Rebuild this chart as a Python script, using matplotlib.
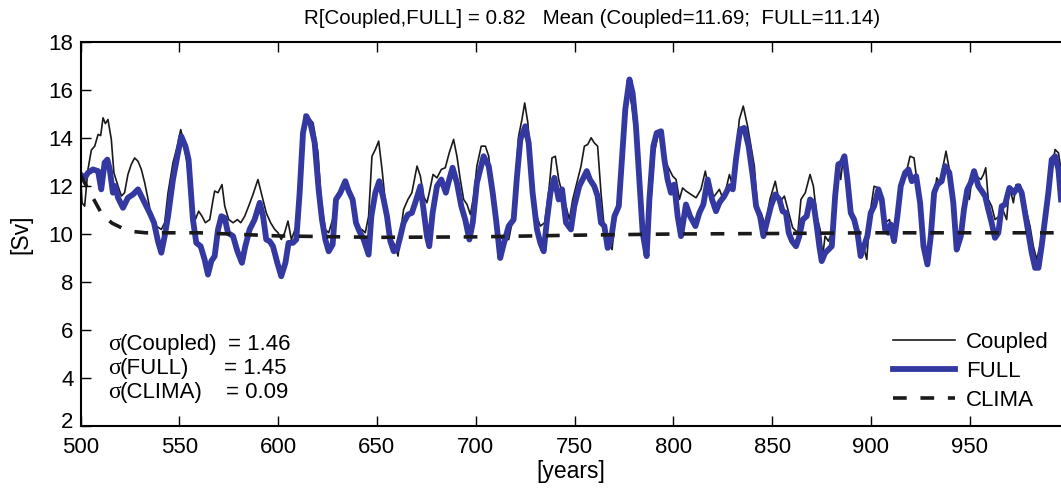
import matplotlib
matplotlib.use("Agg")
import matplotlib.pyplot as plt
import matplotlib.transforms as mtransforms
from matplotlib import font_manager

# values (year, Sv)
coupled_years = [
    500.0, 500.8, 502.1, 503.8, 505.5, 507.2, 508.9, 510.2, 511.4, 512.6, 513.9, 515.6, 516.9, 519.0,
    520.7, 522.3, 524.0, 525.7, 527.4, 529.1, 530.8, 532.5, 534.2, 535.8, 538.4, 540.9, 542.6, 544.3,
    546.8, 549.0, 550.7, 552.4, 554.1, 556.1, 558.1, 559.8, 561.5, 563.2, 565.4, 567.1, 567.9, 569.6,
    571.6, 573.0, 575.0, 577.2, 579.4, 581.1, 583.1, 585.1, 587.3, 589.8, 591.9, 594.0, 596.2, 598.3,
    600.0, 601.6, 603.3, 605.0, 606.7, 609.2, 611.4, 613.4, 615.5, 617.7, 620.2, 621.9,
    622.2, 623.9, 625.6, 628.1, 629.8, 631.5, 634.0, 635.7, 637.4, 639.1, 640.8, 642.4, 644.1, 645.8,
    647.5, 649.2, 650.9, 652.6, 654.3, 655.9, 657.6, 659.3, 660.7, 661.9, 663.5, 665.7, 667.7, 670.3,
    672.0, 673.6, 675.3, 676.5, 678.4, 680.4, 682.6, 684.6, 686.6, 688.8, 690.5, 692.2, 693.9, 695.6,
    697.3, 699.0, 700.6, 702.8, 704.9, 706.6, 708.2, 709.9, 711.6, 714.1, 716.7, 718.4, 720.1, 721.7,
    723.4, 724.8, 726.4, 728.1, 730.2, 732.7, 734.9, 736.9, 738.6, 740.3, 742.0, 743.7,
    745.7, 747.4, 749.1, 751.6, 753.3, 755.0, 756.7, 758.4, 760.0, 761.7, 763.4, 765.1, 766.8, 769.0,
    770.7, 772.7, 774.4, 776.1, 777.4, 779.1, 781.1, 782.8, 784.8, 786.5, 788.7, 790.4, 792.1, 793.8,
    795.5, 798.0, 799.7, 801.4, 803.1, 804.7, 806.4, 809.0, 811.5, 814.0, 816.2, 818.2, 820.8, 823.3,
    825.3, 827.0, 828.4, 830.1, 831.7, 833.4, 835.4, 837.6, 839.3, 841.0, 842.7, 844.4, 846.6, 848.9,
    851.6, 853.7, 856.2, 858.4, 860.4, 863.0, 864.6, 866.8,
    869.2, 870.9, 872.6, 874.3, 875.6, 876.8, 878.5, 880.2, 881.9, 883.5, 884.7, 886.1, 887.4, 889.1,
    890.8, 892.8, 894.5, 896.2, 897.9, 899.6, 901.6, 903.8, 905.5, 907.2, 909.4, 911.0, 912.7, 914.7,
    917.3, 919.8, 921.8, 923.2, 925.2, 926.9, 928.6, 929.9, 931.6, 933.3, 935.0, 936.7, 938.0, 939.7,
    941.4, 943.1, 944.8, 946.5, 948.1, 949.8, 951.5, 953.5, 955.6, 957.0, 958.1, 959.4, 961.1, 962.8,
    965.0, 966.7, 968.7, 970.1, 972.1, 973.5, 975.5, 977.2, 978.9, 980.5, 982.2, 983.9, 985.6, 987.3,
    989.0, 991.0, 993.2, 994.9, 996.2]
coupled_sv = [
    12.48, 11.3, 11.16, 12.7, 13.5, 13.66, 14.15, 14.1, 14.84, 14.6, 14.77, 13.94, 12.55, 12.0,
    11.58, 11.72, 12.48, 12.9, 13.17, 13.03, 12.69, 12.13, 11.44, 10.74, 10.33, 10.19, 10.47, 11.72,
    12.97, 13.66, 14.35, 13.8, 12.83, 11.44, 10.6, 10.95, 10.74, 10.47, 10.6, 11.44, 11.79, 11.72,
    12.06, 11.16, 10.6, 10.47, 10.6, 10.47, 10.74, 11.16, 11.65, 12.27, 11.58, 10.88, 10.47, 10.19,
    10.05, 9.77, 10.05, 10.54, 9.77, 10.33, 13.38, 14.98, 14.84, 14.63, 13.38, 11.3,
    11.16, 10.19, 10.05, 10.74, 11.58, 11.72, 12.13, 11.72, 11.58, 10.74, 10.19, 10.19, 10.05, 10.74,
    13.24, 13.52, 13.87, 12.69, 11.3, 10.6, 9.77, 9.49, 9.08, 10.05, 11.02, 11.44, 11.72, 12.83,
    12.41, 11.58, 11.3, 11.72, 12.48, 12.34, 12.69, 12.76, 13.38, 13.94, 13.24, 12.27, 11.44, 11.23,
    10.81, 11.58, 12.83, 13.66, 13.66, 13.24, 11.99, 11.02, 9.91, 9.77, 9.77, 10.47, 12.13, 14.07,
    14.77, 15.46, 14.63, 12.69, 10.88, 10.33, 10.47, 11.72, 13.17, 13.24, 12.27, 11.72,
    11.16, 10.6, 11.44, 12.27, 12.83, 13.66, 13.73, 14.01, 13.8, 13.66, 11.72, 10.19, 9.7, 9.35,
    10.74, 11.3, 13.38, 15.05, 16.02, 15.33, 13.94, 11.72, 9.77, 9.21, 11.44, 13.38, 14.07, 14.21,
    13.1, 12.69, 12.41, 12.27, 11.44, 11.92, 11.79, 11.65, 11.51, 11.86, 12.62, 11.72, 11.58, 11.86,
    11.44, 11.99, 12.48, 11.99, 13.24, 14.77, 15.33, 14.49, 13.66, 12.83, 11.02, 10.88, 10.33, 11.44,
    12.2, 11.3, 11.58, 10.88, 10.26, 10.05, 11.44, 11.72,
    12.48, 11.99, 10.74, 10.19, 9.08, 9.91, 9.7, 10.05, 11.72, 12.97, 12.27, 13.24, 12.41, 11.02,
    10.6, 10.19, 9.49, 9.49, 8.94, 10.88, 11.99, 11.92, 11.44, 10.47, 10.6, 9.91, 10.74, 11.99,
    12.34, 13.24, 13.17, 12.27, 11.02, 9.77, 9.08, 9.49, 11.3, 12.34, 12.13, 12.9, 13.45, 12.69,
    11.58, 9.49, 9.77, 10.88, 11.86, 11.44, 12.55, 12.41, 12.27, 12.48, 12.76, 11.44, 11.16, 10.6,
    10.74, 11.02, 10.6, 11.99, 11.3, 12.06, 12.06, 11.58, 10.88, 10.33, 9.49, 8.94, 9.49, 10.33,
    11.44, 12.41, 13.52, 13.38, 12.69]

full_years = [
    500.0, 502.1, 503.8, 506.3, 508.9, 510.5, 512.2, 513.6, 514.8, 516.4, 517.6, 519.0, 521.5, 524.0,
    526.6, 529.1, 530.8, 533.3, 535.0, 537.2, 539.2, 540.9, 542.6, 544.3, 546.8, 549.0, 551.0, 553.1,
    554.7, 556.9, 558.6, 560.8, 562.8, 564.5, 566.2, 567.9, 569.6, 571.3, 573.0, 574.6, 577.2, 579.4,
    581.7, 583.4, 585.6, 588.1, 590.7, 592.4, 594.0, 595.7, 597.4, 599.6, 601.6, 603.7, 605.3, 607.5,
    609.2, 610.9, 612.6, 614.3, 616.5, 618.5, 620.5,
    622.2, 623.9, 625.6, 627.6, 629.3, 631.5, 634.0, 635.7, 637.7, 639.4, 641.1, 643.3, 645.8, 647.2,
    649.2, 651.2, 653.4, 655.1, 656.8, 658.5, 660.2, 661.9, 663.5, 665.7, 667.7, 669.4, 672.0, 673.6,
    675.3, 676.5, 678.2, 680.4, 682.6, 684.9, 686.6, 688.3, 690.5, 692.7, 694.7, 696.8, 698.5, 700.6,
    704.0, 706.6, 708.6, 710.3, 712.4, 714.1, 716.7, 719.2, 720.9, 722.6, 725.1, 726.8, 728.8, 731.0,
    732.7, 734.4, 736.1, 737.8, 739.8, 742.0, 743.7,
    745.7, 748.2, 749.9, 752.4, 754.5, 756.2, 757.8, 760.0, 761.7, 763.4, 765.1, 766.8, 768.5, 770.2,
    772.4, 774.0, 775.7, 777.8, 779.4, 781.1, 782.8, 784.5, 786.5, 787.9, 789.9, 791.6, 793.8, 795.5,
    797.1, 798.8, 800.5, 802.2, 803.9, 806.4, 808.5, 811.2, 813.2, 815.2, 817.4, 819.6, 821.6, 823.3,
    825.8, 828.4, 830.1, 831.7, 833.8, 835.9, 838.1, 840.2, 841.9, 843.9, 845.6, 847.3, 849.4, 851.6,
    853.7, 855.3, 857.0, 858.4, 860.1, 862.1, 863.8, 865.5, 867.5,
    869.2, 870.9, 872.6, 873.9, 875.1, 876.8, 878.5, 880.2, 881.9, 883.5, 885.2, 886.6, 888.1, 889.8,
    891.5, 893.2, 894.8, 896.5, 898.2, 899.9, 901.6, 903.8, 905.5, 907.2, 908.8, 910.0, 911.7, 913.4,
    915.1, 917.3, 919.0, 920.7, 922.9, 924.9, 926.6, 928.6, 930.3, 932.0, 933.6, 935.8, 937.5, 939.7,
    941.7, 943.4, 945.5, 947.1, 948.8, 950.5, 952.2, 954.4, 956.1, 957.8, 959.4, 961.1, 962.8, 964.5,
    966.2, 967.9, 970.1, 972.4, 974.6, 976.3, 978.0, 979.7, 981.4, 983.1, 984.8, 986.4, 988.1, 989.8,
    991.5, 993.2, 994.9, 996.2]
full_sv = [
    12.48, 12.34, 12.55, 12.69, 12.62, 11.86, 12.97, 13.1, 12.69, 11.72, 12.0, 11.51, 11.09, 11.51,
    11.65, 11.86, 11.58, 11.16, 10.88, 10.47, 9.7, 9.22, 9.91, 10.74, 12.27, 13.24, 14.07, 13.66,
    13.1, 10.6, 9.63, 9.49, 8.94, 8.31, 8.87, 9.08, 10.19, 10.74, 10.67, 10.05, 9.91, 9.28,
    8.8, 9.49, 10.19, 10.6, 11.3, 10.74, 9.77, 9.7, 9.49, 8.8, 8.24, 8.8, 9.63, 9.63,
    9.77, 11.72, 14.21, 14.91, 14.56, 13.8, 11.86,
    10.6, 9.77, 9.28, 9.56, 11.44, 11.72, 12.2, 11.79, 11.44, 10.47, 10.12, 9.77, 9.14, 10.74,
    11.72, 12.2, 11.44, 10.74, 9.7, 9.28, 9.35, 9.91, 10.47, 10.81, 10.88, 11.3, 11.99, 11.02,
    9.91, 9.49, 10.88, 11.99, 12.27, 11.72, 12.27, 12.76, 12.13, 11.16, 10.6, 9.77, 10.47, 12.13,
    13.24, 12.83, 11.72, 10.6, 9.0, 9.56, 10.33, 10.6, 12.41, 13.94, 14.49, 13.8, 11.72, 10.19,
    9.63, 9.28, 10.6, 11.72, 12.34, 11.44, 11.86,
    10.47, 10.19, 11.16, 11.99, 12.34, 12.62, 12.27, 11.99, 11.58, 10.47, 10.33, 9.42, 9.77, 10.74,
    11.16, 13.1, 15.19, 16.44, 15.88, 14.49, 12.27, 10.05, 9.08, 11.44, 13.66, 14.21, 14.28, 13.1,
    12.27, 11.72, 12.06, 10.74, 9.91, 11.23, 10.74, 10.33, 10.88, 11.23, 12.27, 11.44, 10.95, 11.3,
    11.58, 11.99, 11.86, 13.1, 14.35, 14.42, 13.66, 12.41, 11.16, 10.74, 9.91, 10.47, 11.16, 11.65,
    11.44, 10.95, 10.88, 10.05, 9.7, 9.49, 9.91, 10.6, 10.74,
    11.44, 11.3, 10.33, 9.49, 8.87, 9.21, 9.35, 9.49, 11.58, 12.9, 12.97, 13.24, 12.27, 10.88,
    10.6, 10.05, 9.08, 9.49, 9.91, 10.88, 11.16, 11.86, 11.44, 10.19, 10.05, 10.4, 9.7, 10.74,
    11.99, 12.55, 12.69, 12.2, 12.41, 11.3, 9.49, 8.73, 9.91, 11.72, 12.06, 12.2, 12.83, 12.55,
    11.3, 9.35, 9.91, 11.02, 11.86, 12.13, 12.62, 11.99, 11.79, 11.58, 11.02, 10.47, 9.84, 10.05,
    11.16, 11.23, 11.92, 11.72, 11.99, 11.72, 10.88, 10.05, 9.21, 8.59, 8.59, 9.49, 10.6, 11.72,
    13.1, 13.24, 12.69, 11.44]

clima_years = [500, 503, 507, 511, 516, 521, 527, 533, 540, 560, 600, 650, 700, 750, 800, 850, 900, 950, 1000]
clima_sv = [12.46, 12.0, 11.4, 10.8, 10.45, 10.25, 10.1, 10.05, 10.05, 10.05, 9.92, 9.86, 9.88, 9.95,
            10.0, 10.02, 10.05, 10.05, 10.05]

sigma_names = ['(Coupled)', '(FULL)', '(CLIMA)']
sigma_vals = ['= 1.46', '= 1.45', '= 0.09']
title_txt = 'R[Coupled,FULL] = 0.82   Mean (Coupled=11.69;  FULL=11.14)'

names = {f.name for f in font_manager.fontManager.ttflist}
sans = 'Liberation Sans' if 'Liberation Sans' in names else 'DejaVu Sans'
plt.rcParams['font.family'] = [sans, 'DejaVu Sans']

W, H = 1061, 490
fig = plt.figure(figsize=(W / 100, H / 100), dpi=100)
ax = fig.add_axes([80.5 / W, 64 / H, (W - 80.5) / W, 384 / H])

ax.plot(coupled_years, coupled_sv, color='#1a1a1a', lw=1.2, label='Coupled')
ax.plot(full_years, full_sv, color='#3339a1', lw=4.2, label='FULL')
ax.plot(clima_years, clima_sv, color='#1a1a1a', lw=2.6, linestyle=(0, (3.8, 3.8)), label='CLIMA')

ax.set_xlim(500, 996.2)
ax.set_ylim(2, 18)
ax.set_xticks(range(500, 951, 50))
ax.set_yticks(range(2, 19, 2))
ax.spines['right'].set_visible(False)
for s in ['left', 'bottom', 'top']:
    ax.spines[s].set_linewidth(1.5)
ax.tick_params(direction='in', top=True, length=7, width=1, labelsize=16)
ax.tick_params(axis='x', pad=8)
ax.tick_params(axis='y', pad=5)

ax.set_xlabel('[years]', fontsize=16.5, labelpad=1)
ax.set_ylabel('[Sv]', fontsize=16.5, labelpad=12)

fig.text(592 / W, 1 - 18 / H, title_txt, fontsize=14.8, ha='center', va='center')

# std-dev box
eq_x = [228, 224, 226]
for i in range(3):
    yb = 1 - (350 + 24 * i) / H
    fig.text(108 / W, yb, 'σ', fontsize=17, family=['Liberation Serif', 'DejaVu Serif'], va='baseline')
    fig.text(120 / W, yb, sigma_names[i], fontsize=16, va='baseline')
    fig.text(eq_x[i] / W, yb, sigma_vals[i], fontsize=16, va='baseline')

ax.legend(loc='upper left', bbox_to_anchor=(893 / W, 1 - 332 / H), bbox_transform=fig.transFigure,
          frameon=False, fontsize=16, handlelength=2.8, handletextpad=0.5, labelspacing=0.35,
          borderpad=0, borderaxespad=0)

# lift the lowest y label a few pixels so it clears the "500" below it
fig.canvas.draw()
lab2 = ax.get_yticklabels()[0]
lab2.set_transform(lab2.get_transform() + mtransforms.ScaledTranslation(0, 4 / 72, fig.dpi_scale_trans))

fig.savefig('out.png', dpi=100)
